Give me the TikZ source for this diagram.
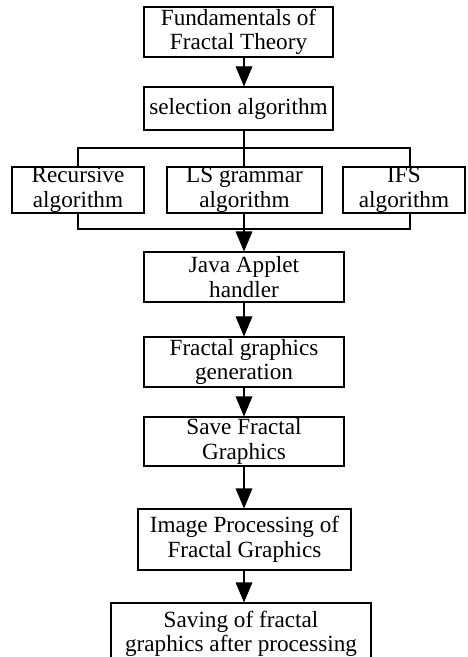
\documentclass[tikz,border=0pt]{standalone}
\usepackage{fontspec}
\setmainfont{Liberation Serif}
\usetikzlibrary{positioning,arrows.meta}

\begin{document}
\begin{tikzpicture}[x=0.03cm, y=-0.03cm,
  stepbox/.style={draw, line width=0.9pt, inner sep=0pt, align=center,
    font=\fontsize{19.8}{21}\selectfont},
  flow/.style={-{Triangle[length=0.6cm, width=0.5cm]}, line width=0.9pt},
  link/.style={line width=0.9pt}]
\useasboundingbox (0,0) rectangle (467,657);
\clip (0,0) rectangle (467,657);
% top of the chain
\node[stepbox, minimum width=5.67cm, minimum height=1.5cm] (fund) at (238.5,32) {Fundamentals of\\Fractal Theory};
\node[stepbox, minimum width=5.67cm, minimum height=1.29cm] (sel) at (238.5,108.5) {selection algorithm};
% three algorithms
\node[stepbox, minimum width=3.96cm, minimum height=1.38cm] (rec) at (78,190) {Recursive\\algorithm};
\node[stepbox, minimum width=4.65cm, minimum height=1.38cm] (ls) at (244.5,190) {LS grammar\\algorithm};
\node[stepbox, minimum width=3.66cm, minimum height=1.38cm] (ifs) at (404,190) {IFS\\algorithm};
\coordinate (split) at (244,148);
\coordinate (join) at (244,229);
\coordinate (ifstop) at (410,167);
\coordinate (ifsbot) at (410,213);
% rest of the chain
\node[stepbox, minimum width=6cm, minimum height=1.5cm] (java) at (244,277) {Java Applet\\handler};
\node[stepbox, minimum width=6cm, minimum height=1.5cm] (gen) at (244,362) {Fractal graphics\\generation};
\node[stepbox, minimum width=6cm, minimum height=1.47cm] (save) at (244,441.5) {Save Fractal\\Graphics};
\node[stepbox, minimum width=6.39cm, minimum height=1.83cm] (img) at (244.5,539.5) {Image Processing of\\Fractal Graphics};
\node[stepbox, minimum width=7.8cm, minimum height=1.86cm] (saving) at (241,634) {Saving of fractal\\graphics after processing};
% connectors
\draw[flow] (fund.south -| split) -- (sel.north -| split);
\draw[link] (sel.south -| split) -- (split);
\draw[link] (rec.north) |- (split) -| (ifstop);
\draw[link] (split) -- (ls.north -| split);
\draw[link] (rec.south) |- (join) -| (ifsbot);
\draw[link] (ls.south -| join) -- (join);
\draw[flow] (join) -- (java.north);
\draw[flow] (java) -- (gen);
\draw[flow] (gen) -- (save);
\draw[flow] (save.south) -- (save.south |- img.north);
\draw[flow] (img.south -| save) -- (saving.north -| save);
\end{tikzpicture}
\end{document}
